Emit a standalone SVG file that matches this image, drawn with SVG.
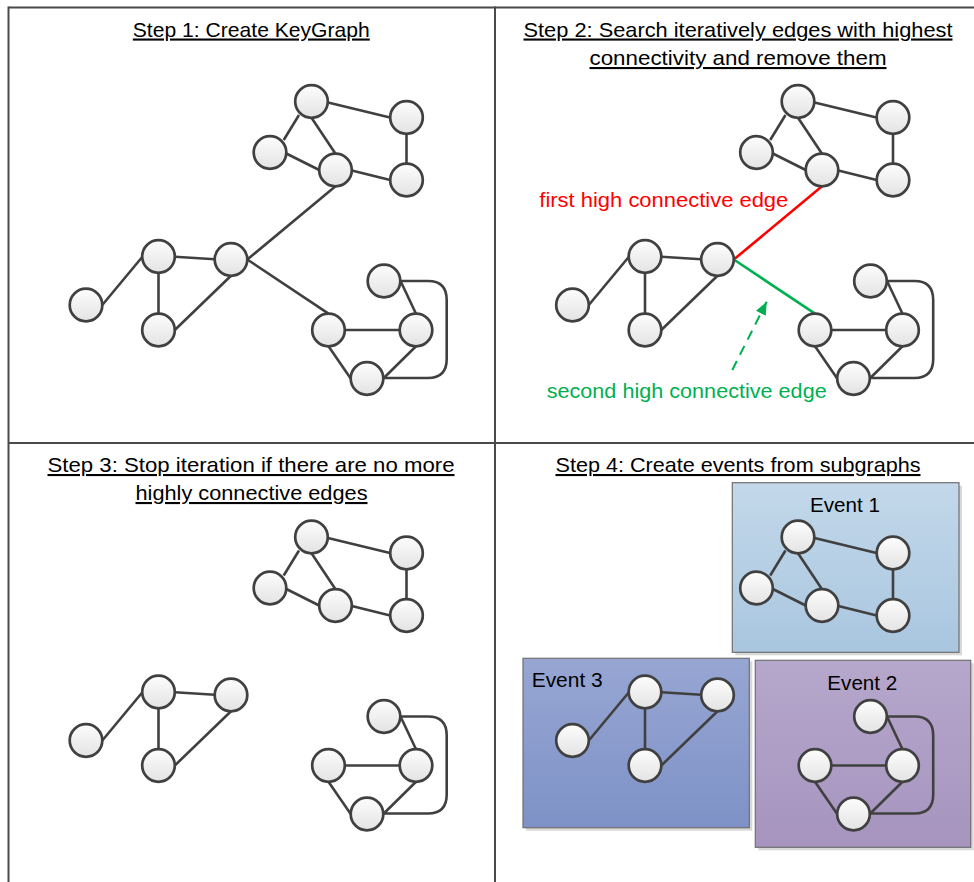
<svg xmlns="http://www.w3.org/2000/svg" width="974" height="882" viewBox="0 0 974 882">
<defs>
<linearGradient id="ng" x1="0" y1="0" x2="0" y2="1"><stop offset="0" stop-color="#fdfdfd"/><stop offset="1" stop-color="#e3e3e3"/></linearGradient>
<linearGradient id="g1" x1="0" y1="0" x2="0" y2="1"><stop offset="0" stop-color="#c3d8ea"/><stop offset="1" stop-color="#a9c6df"/></linearGradient>
<linearGradient id="g3" x1="0" y1="0" x2="0" y2="1"><stop offset="0" stop-color="#97a6d3"/><stop offset="1" stop-color="#7e92c7"/></linearGradient>
<linearGradient id="g2" x1="0" y1="0" x2="0" y2="1"><stop offset="0" stop-color="#b6a7cc"/><stop offset="1" stop-color="#a694be"/></linearGradient>
<marker id="ga" markerUnits="userSpaceOnUse" markerWidth="14" markerHeight="12" refX="13" refY="5.5" orient="auto"><path d="M0,0 L13,5.5 L0,11 z" fill="#00b050"/></marker>
<style>
.n{fill:url(#ng);stroke:#404040;stroke-width:2.7}
.e{fill:none;stroke:#404040;stroke-width:2.6}
.b{stroke:#4a4a4a;stroke-width:2}
.t{font-family:"Liberation Sans",Arial,sans-serif;font-size:21px;fill:#000;text-decoration:underline}
.lb{font-family:"Liberation Sans",Arial,sans-serif;font-size:21px}
.ev{font-family:"Liberation Sans",Arial,sans-serif;font-size:20.5px;fill:#000}
.box{stroke:#6f6f6f;stroke-width:1.2}
.sh{fill:#c8c8c8;opacity:0.7}
</style>
</defs>
<rect width="974" height="882" fill="#fff"/>
<g id="frame">
<line class="b" x1="8.5" y1="7.5" x2="974" y2="7.5"/>
<line class="b" x1="8.5" y1="6.5" x2="8.5" y2="882"/>
<line class="b" x1="495" y1="6.5" x2="495" y2="882"/>
<line class="b" x1="8.5" y1="443" x2="974" y2="443"/>
</g>
<g id="titles">
<text class="t" x="251.3" y="36.5" text-anchor="middle" textLength="237" lengthAdjust="spacingAndGlyphs">Step 1: Create KeyGraph</text>
<text class="t" x="738" y="36.5" text-anchor="middle" textLength="429" lengthAdjust="spacingAndGlyphs">Step 2: Search iteratively edges with highest</text>
<text class="t" x="738" y="65" text-anchor="middle" textLength="297" lengthAdjust="spacingAndGlyphs">connectivity and remove them</text>
<text class="t" x="251" y="472" text-anchor="middle" textLength="407" lengthAdjust="spacingAndGlyphs">Step 3: Stop iteration if there are no more</text>
<text class="t" x="251.5" y="500" text-anchor="middle" textLength="232" lengthAdjust="spacingAndGlyphs">highly connective edges</text>
<text class="t" x="738" y="472" text-anchor="middle" textLength="365" lengthAdjust="spacingAndGlyphs">Step 4: Create events from subgraphs</text>
</g>
<g id="event-boxes">
<g id="event1-box"><rect class="sh" x="735.3" y="485.7" width="226.7" height="169.6"/><rect class="box" x="732.3" y="482.7" width="226.7" height="169.6" fill="url(#g1)"/><text class="ev" x="810" y="511.5" textLength="70" lengthAdjust="spacingAndGlyphs">Event 1</text></g>
<g id="event3-box"><rect class="sh" x="526" y="661.3" width="226.3" height="169.4"/><rect class="box" x="523" y="658.3" width="226.3" height="169.4" fill="url(#g3)"/><text class="ev" x="531.7" y="687" textLength="71" lengthAdjust="spacingAndGlyphs">Event 3</text></g>
<g id="event2-box"><rect class="sh" x="758.3" y="663.3" width="215.4" height="187"/><rect class="box" x="755.3" y="660.3" width="215.4" height="187" fill="url(#g2)"/><text class="ev" x="827.3" y="690" textLength="70" lengthAdjust="spacingAndGlyphs">Event 2</text></g>
</g>
<g id="connectors">
<g id="p1-edges">
<path class="e" d="M328,102.5 L390,117.5"/>
<path class="e" d="M299,115 L283.7,140"/>
<path class="e" d="M311.5,117.8 L335.5,153.7"/>
<path class="e" d="M286.3,153.5 L319.2,170"/>
<path class="e" d="M351.8,170.5 L390.2,180"/>
<path class="e" d="M406.5,133.8 L406.5,163.7"/>
<path class="e" d="M335.5,186.3 L247.3,259.5"/>
<path class="e" d="M174.8,256.7 L214.7,259.3"/>
<path class="e" d="M142.2,257 L102.3,305"/>
<path class="e" d="M158.5,272.8 L158.5,313.7"/>
<path class="e" d="M231,275.8 L174.8,330"/>
<path class="e" d="M247.3,259.5 L328.5,313.7"/>
<path class="e" d="M344.8,330 L399.7,330"/>
<path class="e" d="M328.5,346.3 L350.7,378.5"/>
<path class="e" d="M416,346.3 L383.3,378.5"/>
<path class="e" d="M401,282 L416,313.7"/>
<path class="e" d="M400.3,281 H428 Q446.7,281 446.7,300 V359 Q446.7,378 428,378 H383.3"/>
</g>
<g id="p2-edges" transform="translate(486.5,0)">
<path class="e" d="M328,102.5 L390,117.5"/>
<path class="e" d="M299,115 L283.7,140"/>
<path class="e" d="M311.5,117.8 L335.5,153.7"/>
<path class="e" d="M286.3,153.5 L319.2,170"/>
<path class="e" d="M351.8,170.5 L390.2,180"/>
<path class="e" d="M406.5,133.8 L406.5,163.7"/>
<path d="M335.5,186.3 L247.3,259.5" fill="none" stroke="#ff0000" stroke-width="2.6"/>
<path class="e" d="M174.8,256.7 L214.7,259.3"/>
<path class="e" d="M142.2,257 L102.3,305"/>
<path class="e" d="M158.5,272.8 L158.5,313.7"/>
<path class="e" d="M231,275.8 L174.8,330"/>
<path d="M247.3,259.5 L328.5,313.7" fill="none" stroke="#00b050" stroke-width="2.6"/>
<path class="e" d="M344.8,330 L399.7,330"/>
<path class="e" d="M328.5,346.3 L350.7,378.5"/>
<path class="e" d="M416,346.3 L383.3,378.5"/>
<path class="e" d="M401,282 L416,313.7"/>
<path class="e" d="M400.3,281 H428 Q446.7,281 446.7,300 V359 Q446.7,378 428,378 H383.3"/>
</g>
<path id="p2-arrow" d="M732.3,370 L766.7,301.7" fill="none" stroke="#00b050" stroke-width="2" stroke-dasharray="10,7" marker-end="url(#ga)"/>
<g id="p3-edges" transform="translate(0,435.5)">
<path class="e" d="M328,102.5 L390,117.5"/>
<path class="e" d="M299,115 L283.7,140"/>
<path class="e" d="M311.5,117.8 L335.5,153.7"/>
<path class="e" d="M286.3,153.5 L319.2,170"/>
<path class="e" d="M351.8,170.5 L390.2,180"/>
<path class="e" d="M406.5,133.8 L406.5,163.7"/>
<path class="e" d="M174.8,256.7 L214.7,259.3"/>
<path class="e" d="M142.2,257 L102.3,305"/>
<path class="e" d="M158.5,272.8 L158.5,313.7"/>
<path class="e" d="M231,275.8 L174.8,330"/>
<path class="e" d="M344.8,330 L399.7,330"/>
<path class="e" d="M328.5,346.3 L350.7,378.5"/>
<path class="e" d="M416,346.3 L383.3,378.5"/>
<path class="e" d="M401,282 L416,313.7"/>
<path class="e" d="M400.3,281 H428 Q446.7,281 446.7,300 V359 Q446.7,378 428,378 H383.3"/>
</g>
<g id="p4-edges" transform="translate(486.5,435.5)">
<path class="e" d="M328,102.5 L390,117.5"/>
<path class="e" d="M299,115 L283.7,140"/>
<path class="e" d="M311.5,117.8 L335.5,153.7"/>
<path class="e" d="M286.3,153.5 L319.2,170"/>
<path class="e" d="M351.8,170.5 L390.2,180"/>
<path class="e" d="M406.5,133.8 L406.5,163.7"/>
<path class="e" d="M174.8,256.7 L214.7,259.3"/>
<path class="e" d="M142.2,257 L102.3,305"/>
<path class="e" d="M158.5,272.8 L158.5,313.7"/>
<path class="e" d="M231,275.8 L174.8,330"/>
<path class="e" d="M344.8,330 L399.7,330"/>
<path class="e" d="M328.5,346.3 L350.7,378.5"/>
<path class="e" d="M416,346.3 L383.3,378.5"/>
<path class="e" d="M401,282 L416,313.7"/>
<path class="e" d="M400.3,281 H428 Q446.7,281 446.7,300 V359 Q446.7,378 428,378 H383.3"/>
</g>
</g>
<g id="labels">
<text class="lb" x="539.3" y="206.7" fill="#ff0000" textLength="249" lengthAdjust="spacingAndGlyphs">first high connective edge</text>
<text class="lb" x="546.7" y="398.3" fill="#00b050" textLength="280" lengthAdjust="spacingAndGlyphs">second high connective edge</text>
</g>
<g id="panel1-nodes">
<g id="p1-A"><circle class="n" cx="311.5" cy="101.5" r="16.3"/></g>
<g id="p1-B"><circle class="n" cx="406.5" cy="117.5" r="16.3"/></g>
<g id="p1-C"><circle class="n" cx="270" cy="152.5" r="16.3"/></g>
<g id="p1-D"><circle class="n" cx="335.5" cy="170" r="16.3"/></g>
<g id="p1-E"><circle class="n" cx="406.5" cy="180" r="16.3"/></g>
<g id="p1-F"><circle class="n" cx="231" cy="259.5" r="16.3"/></g>
<g id="p1-G"><circle class="n" cx="158.5" cy="256.5" r="16.3"/></g>
<g id="p1-H"><circle class="n" cx="86" cy="305" r="16.3"/></g>
<g id="p1-I"><circle class="n" cx="158.5" cy="330" r="16.3"/></g>
<g id="p1-J"><circle class="n" cx="328.5" cy="330" r="16.3"/></g>
<g id="p1-K"><circle class="n" cx="384" cy="281" r="16.3"/></g>
<g id="p1-L"><circle class="n" cx="416" cy="330" r="16.3"/></g>
<g id="p1-M"><circle class="n" cx="367" cy="378.5" r="16.3"/></g>
</g>
<g id="panel2-nodes" transform="translate(486.5,0)">
<g id="p2-A"><circle class="n" cx="311.5" cy="101.5" r="16.3"/></g>
<g id="p2-B"><circle class="n" cx="406.5" cy="117.5" r="16.3"/></g>
<g id="p2-C"><circle class="n" cx="270" cy="152.5" r="16.3"/></g>
<g id="p2-D"><circle class="n" cx="335.5" cy="170" r="16.3"/></g>
<g id="p2-E"><circle class="n" cx="406.5" cy="180" r="16.3"/></g>
<g id="p2-F"><circle class="n" cx="231" cy="259.5" r="16.3"/></g>
<g id="p2-G"><circle class="n" cx="158.5" cy="256.5" r="16.3"/></g>
<g id="p2-H"><circle class="n" cx="86" cy="305" r="16.3"/></g>
<g id="p2-I"><circle class="n" cx="158.5" cy="330" r="16.3"/></g>
<g id="p2-J"><circle class="n" cx="328.5" cy="330" r="16.3"/></g>
<g id="p2-K"><circle class="n" cx="384" cy="281" r="16.3"/></g>
<g id="p2-L"><circle class="n" cx="416" cy="330" r="16.3"/></g>
<g id="p2-M"><circle class="n" cx="367" cy="378.5" r="16.3"/></g>
</g>
<g id="panel3-nodes" transform="translate(0,435.5)">
<g id="p3-A"><circle class="n" cx="311.5" cy="101.5" r="16.3"/></g>
<g id="p3-B"><circle class="n" cx="406.5" cy="117.5" r="16.3"/></g>
<g id="p3-C"><circle class="n" cx="270" cy="152.5" r="16.3"/></g>
<g id="p3-D"><circle class="n" cx="335.5" cy="170" r="16.3"/></g>
<g id="p3-E"><circle class="n" cx="406.5" cy="180" r="16.3"/></g>
<g id="p3-F"><circle class="n" cx="231" cy="259.5" r="16.3"/></g>
<g id="p3-G"><circle class="n" cx="158.5" cy="256.5" r="16.3"/></g>
<g id="p3-H"><circle class="n" cx="86" cy="305" r="16.3"/></g>
<g id="p3-I"><circle class="n" cx="158.5" cy="330" r="16.3"/></g>
<g id="p3-J"><circle class="n" cx="328.5" cy="330" r="16.3"/></g>
<g id="p3-K"><circle class="n" cx="384" cy="281" r="16.3"/></g>
<g id="p3-L"><circle class="n" cx="416" cy="330" r="16.3"/></g>
<g id="p3-M"><circle class="n" cx="367" cy="378.5" r="16.3"/></g>
</g>
<g id="panel4-nodes" transform="translate(486.5,435.5)">
<g id="p4-A"><circle class="n" cx="311.5" cy="101.5" r="16.3"/></g>
<g id="p4-B"><circle class="n" cx="406.5" cy="117.5" r="16.3"/></g>
<g id="p4-C"><circle class="n" cx="270" cy="152.5" r="16.3"/></g>
<g id="p4-D"><circle class="n" cx="335.5" cy="170" r="16.3"/></g>
<g id="p4-E"><circle class="n" cx="406.5" cy="180" r="16.3"/></g>
<g id="p4-F"><circle class="n" cx="231" cy="259.5" r="16.3"/></g>
<g id="p4-G"><circle class="n" cx="158.5" cy="256.5" r="16.3"/></g>
<g id="p4-H"><circle class="n" cx="86" cy="305" r="16.3"/></g>
<g id="p4-I"><circle class="n" cx="158.5" cy="330" r="16.3"/></g>
<g id="p4-J"><circle class="n" cx="328.5" cy="330" r="16.3"/></g>
<g id="p4-K"><circle class="n" cx="384" cy="281" r="16.3"/></g>
<g id="p4-L"><circle class="n" cx="416" cy="330" r="16.3"/></g>
<g id="p4-M"><circle class="n" cx="367" cy="378.5" r="16.3"/></g>
</g>
</svg>
